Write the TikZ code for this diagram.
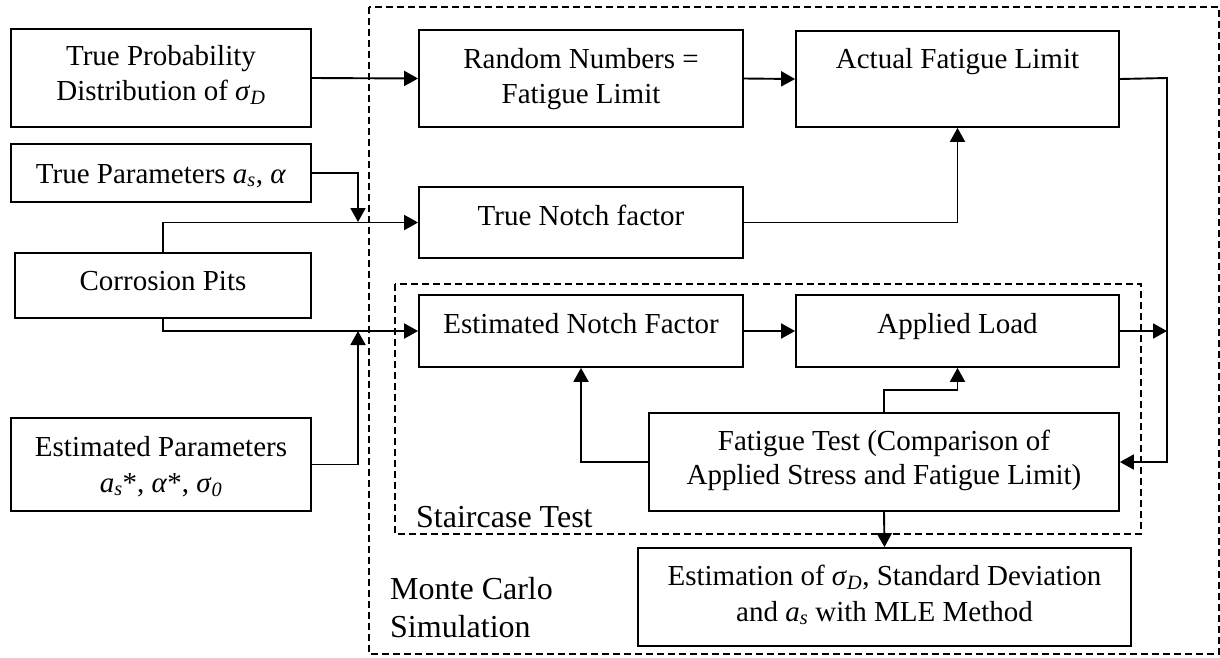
\documentclass[tikz,border=0pt]{standalone}
\usepackage{fontspec}
\setmainfont{Liberation Serif}
\usetikzlibrary{arrows.meta}
\newcommand{\mysig}{\textit{σ}}
\newcommand{\myas}{\textit{a}\textsubscript{\textit{s}}}
\begin{document}
\begin{tikzpicture}[x=1pt,y=-1pt,
  box/.style={draw, line width=1.8pt, inner sep=0pt},
  txt/.style={anchor=base, inner sep=0pt, font=\fontsize{29}{35}\selectfont},
  big/.style={anchor=base west, inner sep=0pt, font=\fontsize{32}{38}\selectfont},
  arr/.style={line width=1.9pt, -{Triangle[length=14pt,width=15pt]}},
  dbox/.style={draw, line width=1.4pt, dash pattern=on 7pt off 4pt}]
\useasboundingbox (0,0) rectangle (1220,657);

% dashed frames
\draw[dbox] (369,7) rectangle (1219,654);
\draw[dbox] (395,284) rectangle (1141,534);

% boxes
\node[box, minimum width=300pt, minimum height=98pt] (tp) at (161,78) {};
\node[box, minimum width=300pt, minimum height=58pt] (tpar) at (161,173) {};
\node[box, minimum width=296pt, minimum height=65pt] (corr) at (163,285.5) {};
\node[box, minimum width=300pt, minimum height=93pt] (estp) at (161,464.5) {};
\node[box, minimum width=324pt, minimum height=97pt] (rn) at (581,78.5) {};
\node[box, minimum width=323pt, minimum height=96pt] (act) at (957.5,79) {};
\node[box, minimum width=324pt, minimum height=71pt] (tn) at (581,222.5) {};
\node[box, minimum width=324pt, minimum height=72pt] (estn) at (581,331) {};
\node[box, minimum width=323pt, minimum height=72pt] (al) at (957.5,331) {};
\node[box, minimum width=470pt, minimum height=98pt] (ft) at (884,462) {};
\node[box, minimum width=493pt, minimum height=98pt] (est) at (884.5,597) {};

% texts
\node[txt] (tp1) at (161,65) {True Probability};
\node[txt] (tp2) at (161,100) {Distribution of \mysig\textsubscript{\textit{D}}};
\node[txt] (tpar1) at (161,183) {True Parameters \myas, \textit{α}};
\node[txt] (corr1) at (163,290) {Corrosion Pits};
\node[txt] (estp1) at (161,456) {Estimated Parameters};
\node[txt] (estp2) at (161,492) {\myas*, \textit{α}*, \mysig\textsubscript{\textit{0}}};
\node[txt] (rn1) at (581,68) {Random Numbers =};
\node[txt] (rn2) at (581,103) {Fatigue Limit};
\node[txt] (act1) at (957.5,68) {Actual Fatigue Limit};
\node[txt] (tn1) at (581,225) {True Notch factor};
\node[txt] (estn1) at (581,333) {Estimated Notch Factor};
\node[txt] (al1) at (957.5,333) {Applied Load};
\node[txt] (ft1) at (884,450) {Fatigue Test (Comparison of};
\node[txt] (ft2) at (884,484) {Applied Stress and Fatigue Limit)};
\node[txt] (est1) at (884.5,585) {Estimation of \mysig\textsubscript{\textit{D}}, Standard Deviation};
\node[txt] (est2) at (884.5,621) {and \myas{} with MLE Method};
\node[big] (stc) at (416,527) {Staircase Test};
\node[big] (mc1) at (390,599) {Monte Carlo};
\node[big] (mc2) at (390,637) {Simulation};

% junction coordinates
\coordinate (j1) at (358,222);
\coordinate (j2) at (358,331);
\coordinate (r1) at (1167,78);
\coordinate (j3) at (1167,331);
\coordinate (k1) at (884,390);

% connectors
\draw[arr] (tp.east) -- (rn.west);
\draw[arr] (tpar.east) -| (j1);
\draw[arr] (corr.north) |- (tn.west);
\draw[arr] (corr.south) |- (estn.west);
\draw[arr] (estp.east) -| (j2);
\draw[arr] (rn.east) -- (act.west);
\draw[arr] (tn.east) -| (act.south);
\draw[arr] (act.east) -- (r1) |- (ft.east);
\draw[arr] (estn.east) -- (al.west);
\draw[arr] (al.east) -- (j3);
\draw[arr] (ft.north) -- (k1) -| (al.south);
\draw[arr] (ft.west) -| (estn.south);
\draw[arr] (ft.south) -- (est.north);
\end{tikzpicture}
\end{document}
